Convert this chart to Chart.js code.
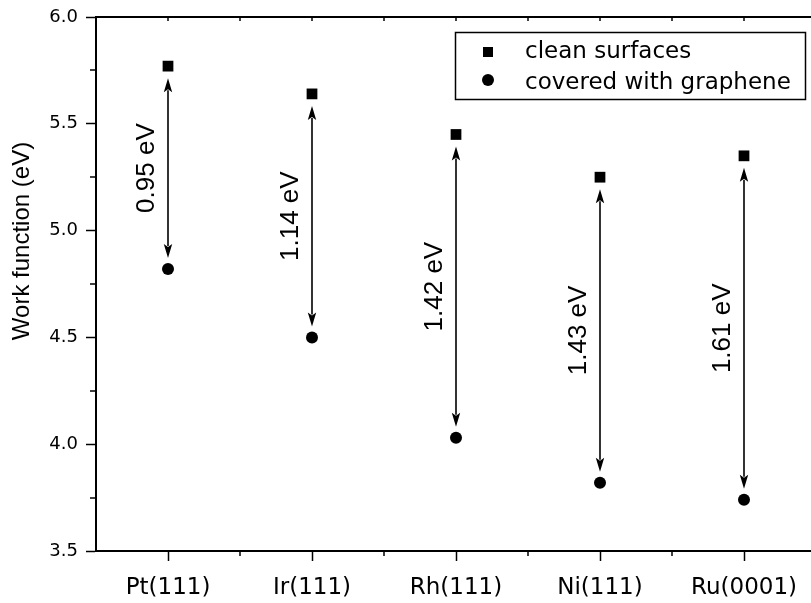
<!DOCTYPE html>
<html><head><meta charset="utf-8">
<script src="https://cdn.jsdelivr.net/npm/chart.js@4/dist/chart.umd.min.js"></script>
<style>html,body{margin:0;padding:0;background:#fff}#wrap{width:811px;height:603px}</style>
</head><body><div id="wrap"><canvas id="c" width="811" height="603"></canvas></div>
<script>
const categories = ['Pt(111)', 'Ir(111)', 'Rh(111)', 'Ni(111)', 'Ru(0001)'];
const cleanSurfaces = [5.77, 5.64, 5.45, 5.25, 5.35];
const withGraphene = [4.82, 4.50, 4.03, 3.82, 3.74];
const diffLabels = ['0.95 eV', '1.14 eV', '1.42 eV', '1.43 eV', '1.61 eV'];
const yTicks = [3.5, 4.0, 4.5, 5.0, 5.5, 6.0];
const yMinorTicks = [3.75, 4.25, 4.75, 5.25, 5.75];
const xMinorTicks = [1.5, 2.5, 3.5, 4.5];
const seriesNames = ['clean surfaces', 'covered with graphene'];
const yTitle = 'Work function (eV)';

const H = "'DejaVu Sans', sans-serif";
const A = "'Liberation Sans', Arial, sans-serif";

const annot = {
  id: 'annot',
  afterDatasetsDraw(chart) {
    const ctx = chart.ctx, xs = chart.scales.x, ys = chart.scales.y;
    ctx.save();
    ctx.strokeStyle = '#000'; ctx.fillStyle = '#000'; ctx.lineWidth = 1.6;
    categories.forEach((c, i) => {
      const x = Math.round(xs.getPixelForValue(i + 1));
      const yT = ys.getPixelForValue(cleanSurfaces[i]) + 12;
      const yB = ys.getPixelForValue(withGraphene[i]) - 11;
      const hl = 14, hw = 4.2;
      ctx.beginPath(); ctx.moveTo(x, yT + hl - 2); ctx.lineTo(x, yB - hl + 2); ctx.stroke();
      ctx.beginPath(); ctx.moveTo(x, yT); ctx.lineTo(x - hw, yT + hl); ctx.lineTo(x, yT + hl - 3); ctx.lineTo(x + hw, yT + hl); ctx.closePath(); ctx.fill();
      ctx.beginPath(); ctx.moveTo(x, yB); ctx.lineTo(x - hw, yB - hl); ctx.lineTo(x, yB - hl + 3); ctx.lineTo(x + hw, yB - hl); ctx.closePath(); ctx.fill();
      ctx.save();
      ctx.translate(x - 21, (yT + yB) / 2);
      ctx.rotate(-Math.PI / 2);
      ctx.font = '26px ' + A; ctx.textAlign = 'center'; ctx.textBaseline = 'middle';
      ctx.fillText(diffLabels[i], 0, 0);
      ctx.restore();
    });
    ctx.restore();
  },
  afterDraw(chart) {
    const ctx = chart.ctx, xs = chart.scales.x, ys = chart.scales.y, ca = chart.chartArea;
    ctx.save();
    ctx.strokeStyle = '#000'; ctx.fillStyle = '#000';
    ctx.lineWidth = 2;
    ctx.beginPath(); ctx.moveTo(ca.left - 1, ca.top); ctx.lineTo(chart.width, ca.top); ctx.stroke();
    ctx.lineWidth = 1.5;
    [1, 2, 3, 4, 5].concat(xMinorTicks).forEach(v => {
      const x = Math.round(xs.getPixelForValue(v));
      if (x > chart.width) return;
      ctx.beginPath(); ctx.moveTo(x, ca.top); ctx.lineTo(x, ca.top + 4); ctx.stroke();
    });
    xMinorTicks.forEach(v => {
      const x = Math.round(xs.getPixelForValue(v));
      ctx.beginPath(); ctx.moveTo(x, ca.bottom); ctx.lineTo(x, ca.bottom + 5); ctx.stroke();
    });
    yMinorTicks.forEach(v => {
      const y = Math.round(ys.getPixelForValue(v));
      ctx.beginPath(); ctx.moveTo(ca.left, y); ctx.lineTo(ca.left - 6, y); ctx.stroke();
    });
    ctx.save();
    ctx.translate(22, 241);
    ctx.rotate(-Math.PI / 2);
    ctx.font = '24px ' + A; ctx.textAlign = 'center'; ctx.textBaseline = 'middle';
    ctx.fillText(yTitle, 0, 0);
    ctx.restore();
    ctx.lineWidth = 1.5;
    ctx.strokeRect(455.5, 32.5, 350, 67);
    ctx.fillRect(483, 47, 10, 10);
    ctx.beginPath(); ctx.arc(488, 80, 6, 0, Math.PI * 2); ctx.fill();
    ctx.font = '23px ' + H; ctx.textAlign = 'left'; ctx.textBaseline = 'alphabetic';
    ctx.fillText(chart.data.datasets[0].label, 525, 58);
    ctx.fillText(chart.data.datasets[1].label, 525, 89);
    ctx.restore();
  }
};

new Chart(document.getElementById('c'), {
  type: 'scatter',
  data: {
    datasets: [
      { label: seriesNames[0], data: cleanSurfaces.map((v, i) => ({ x: i + 1, y: v })),
        pointStyle: 'rect', pointRadius: 7.6, backgroundColor: '#000', borderColor: '#000', borderWidth: 0 },
      { label: seriesNames[1], data: withGraphene.map((v, i) => ({ x: i + 1, y: v })),
        pointStyle: 'circle', pointRadius: 6, backgroundColor: '#000', borderColor: '#000', borderWidth: 0 }
    ]
  },
  options: {
    responsive: false, animation: false, devicePixelRatio: 1,
    layout: { autoPadding: false, padding: { top: 17, right: 0, left: 0, bottom: 0 } },
    plugins: { legend: { display: false }, tooltip: { enabled: false } },
    scales: {
      x: {
        type: 'linear', min: 0.5, max: 0.5 + 715 / 144,
        afterBuildTicks: s => { s.ticks = categories.map((c, i) => ({ value: i + 1 })); },
        afterFit: s => { s.height = 52; s.paddingLeft = 0; s.paddingRight = 0; },
        ticks: { callback: v => categories[Math.round(v) - 1] || '', font: { family: H, size: 23 }, color: '#000', padding: 13, maxRotation: 0, autoSkip: false },
        grid: { drawOnChartArea: false, tickLength: 10, tickColor: '#000', tickWidth: 1.5 },
        border: { color: '#000', width: 2 }
      },
      y: {
        min: 3.5, max: 6.0,
        afterBuildTicks: s => { s.ticks = yTicks.map(v => ({ value: v })); },
        afterFit: s => { s.width = 96; s.paddingTop = 0; s.paddingBottom = 0; },
        ticks: { callback: v => Number(v).toFixed(1), font: { family: H, size: 18 }, color: '#000', padding: 8 },
        grid: { drawOnChartArea: false, tickLength: 10, tickColor: '#000', tickWidth: 1.5 },
        border: { color: '#000', width: 2 }
      }
    }
  },
  plugins: [annot]
});
</script></body></html>
